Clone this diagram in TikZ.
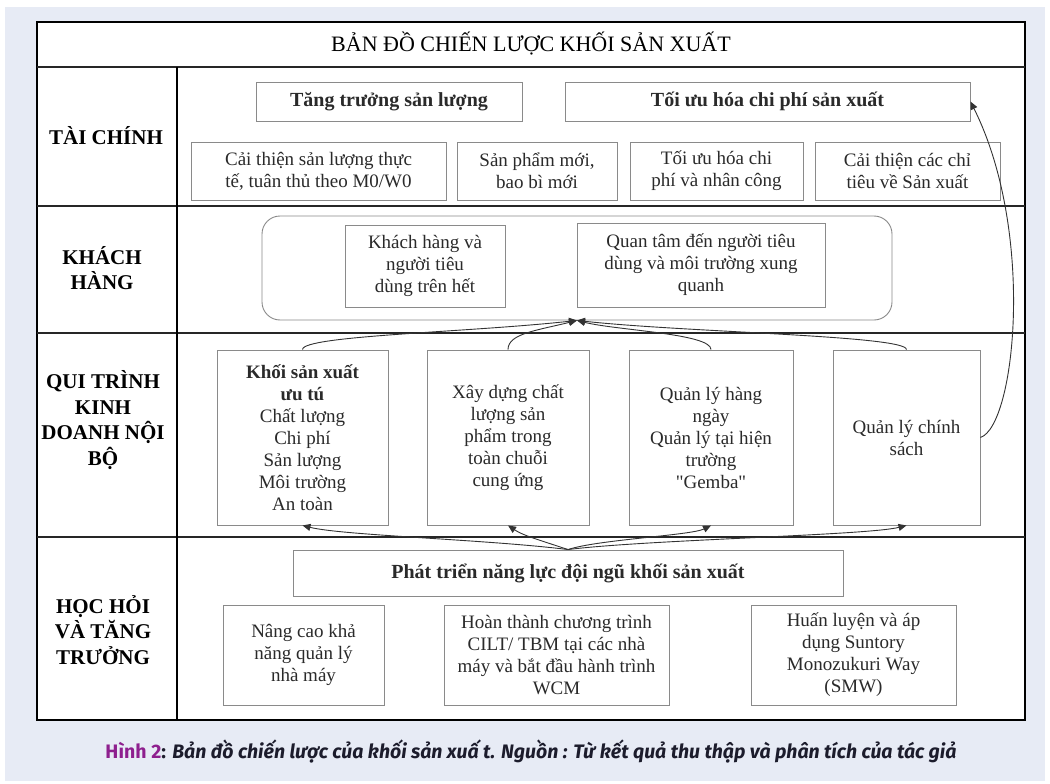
\documentclass[tikz,border=0pt]{standalone}
\usepackage{fontspec}
\setmainfont{Liberation Serif}[Ligatures=TeXOff]
\newfontfamily\capfont{Fira Sans}
\usetikzlibrary{arrows.meta}
\definecolor{bgc}{HTML}{E7EBF5}
\definecolor{boxc}{HTML}{8A8A8A}
\definecolor{txtc}{HTML}{2A2A2A}
\definecolor{capc}{HTML}{8E1F8E}
\definecolor{capt}{HTML}{1C1C2C}
\tikzset{
  box/.style={draw=boxc, line width=0.9pt, fill=white, align=center, text=txtc, inner sep=2pt,
    font=\fontsize{19}{22}\selectfont},
  bbox/.style={box, font=\fontsize{20}{22}\selectfont\bfseries},
  rbox/.style={draw=boxc, line width=0.9pt, rounded corners=18pt},
  lab/.style={align=center, text=black, font=\fontsize{21}{25.5}\selectfont\bfseries},
  conn/.style={draw=black!80, line width=0.9pt},
  tip/.style={-{Triangle[length=8pt,width=7pt]}}
}
\begin{document}
\begin{tikzpicture}[x=1pt,y=-1pt]
\useasboundingbox (0,0) rectangle (1050,784);
\fill[white] (0,0) rectangle (1050,784);
\fill[bgc] (5,7) rectangle (1045,781);
% frame
\draw[line width=2.2pt, fill=white] (37,22) rectangle (1025,720);
\draw[line width=1.8pt, black!85] (37,67) -- (1025,67);
\draw[line width=1.8pt, black!85] (37,206) -- (1025,206);
\draw[line width=1.8pt, black!85] (37,333) -- (1025,333);
\draw[line width=1.8pt, black!85] (37,537) -- (1025,537);
\draw[line width=1.8pt] (177,67) -- (177,720);
% title
\node[font=\fontsize{22}{24}\selectfont, text=black] (title) at (531,44) {BẢN ĐỒ CHIẾN LƯỢC KHỐI SẢN XUẤT};
% labels
\node[lab] (L1) at (106,136) {TÀI CHÍNH};
\node[lab] (L2) at (102,268) {KHÁCH\\HÀNG};
\node[lab] (L3) at (103,420) {QUI TRÌNH\\KINH\\DOANH NỘI\\BỘ};
\node[lab] (L4) at (103,630) {HỌC HỎI\\VÀ TĂNG\\TRƯỞNG};
% row 1
\node[bbox, minimum width=266pt, minimum height=39pt] (t1) at (389,101.5) {Tăng trưởng sản lượng};
\node[bbox, minimum width=405pt, minimum height=39pt] (t2) at (767.5,101.5) {Tối ưu hóa chi phí sản xuất};
\node[box, minimum width=255pt, minimum height=58pt] (f1) at (318.5,171) {Cải thiện sản lượng thực\\tế, tuân thủ theo M0/W0};
\node[box, minimum width=160pt, minimum height=58pt] (f2) at (537,171) {Sản phẩm mới,\\bao bì mới};
\node[box, minimum width=173pt, minimum height=58pt] (f3) at (716.5,171) {Tối ưu hóa chi\\phí và nhân công};
\node[box, minimum width=185pt, minimum height=58pt] (f4) at (907.5,171) {Cải thiện các chỉ\\tiêu về Sản xuất};
% row 2
\node[rbox, minimum width=630pt, minimum height=104pt] (kh) at (577,268) {};
\node[box, minimum width=160pt, minimum height=82pt] (k1) at (425,266) {Khách hàng và\\người tiêu\\dùng trên hết};
\node[box, minimum width=248pt, minimum height=84pt] (k2) at (701,265) {Quan tâm đến người tiêu\\dùng và môi trường xung\\quanh};
% row 3
\node[box, minimum width=171pt, minimum height=175pt] (p1) at (302.5,437.5) {\textbf{Khối sản xuất}\\\textbf{ưu tú}\\Chất lượng\\Chi phí\\Sản lượng\\Môi trường\\An toàn};
\node[box, minimum width=162pt, minimum height=175pt] (p2) at (508,437.5) {Xây dựng chất\\lượng sản\\phẩm trong\\toàn chuỗi\\cung ứng};
\node[box, minimum width=164pt, minimum height=175pt] (p3) at (711,437.5) {Quản lý hàng\\ngày\\Quản lý tại hiện\\trường\\"Gemba"};
\node[box, minimum width=147pt, minimum height=175pt] (p4) at (906.5,437.5) {Quản lý chính\\sách};
% row 4
\node[bbox, minimum width=550pt, minimum height=46pt] (d0) at (568,573) {Phát triển năng lực đội ngũ khối sản xuất};
\node[box, minimum width=161pt, minimum height=100pt] (l1) at (303.5,655) {Nâng cao khả\\năng quản lý\\nhà máy};
\node[box, minimum width=225pt, minimum height=100pt] (l2) at (556.5,655) {Hoàn thành chương trình\\CILT/ TBM tại các nhà\\máy và bắt đầu hành trình\\WCM};
\node[box, minimum width=205pt, minimum height=100pt] (l3) at (853.5,655) {Huấn luyện và áp\\dụng Suntory\\Monozukuri Way\\(SMW)};
% connectors row3 -> customer
\draw[conn,tip] (p1.north) .. controls +(0,-14) and +(-110,12) .. (kh.south);
\draw[conn,tip] (p2.north) .. controls +(0,-16) and +(-40,10) .. (kh.south);
\draw[conn,tip] (p3.north) .. controls +(0,-16) and +(40,10) .. (kh.south);
\draw[conn,tip] (p4.north) .. controls +(0,-14) and +(110,12) .. (kh.south);
% connectors learning -> row3
\draw[conn,tip] (d0.north) .. controls +(-80,-10) and +(40,10) .. (p1.south);
\draw[conn,tip] (d0.north) .. controls +(-30,-10) and +(15,10) .. (p2.south);
\draw[conn,tip] (d0.north) .. controls +(30,-10) and +(-20,10) .. (p3.south);
\draw[conn,tip] (d0.north) .. controls +(80,-10) and +(-40,10) .. (p4.south);
% policy -> cost
\draw[conn,tip] (p4.east) .. controls +(35,-12) and +(65,130) .. (t2.east);
% caption
\node[font=\capfont\fontsize{19.5}{22}\selectfont\bfseries, text=capt] (cap) at (531,752)
  {\textcolor{capc}{Hình 2}: \itshape Bản đồ chiến lược của khối sản xuấ t. Nguồn : Từ kết quả thu thập và phân tích của tác giả};
\end{tikzpicture}
\end{document}
